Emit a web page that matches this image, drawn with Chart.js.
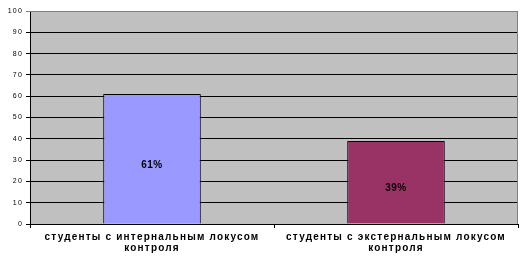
<!DOCTYPE html>
<html>
<head>
<meta charset="utf-8">
<script src="https://cdn.jsdelivr.net/npm/chart.js@4"></script>
<style>
  html, body { margin: 0; padding: 0; background: #fff; }
  #wrap { width: 528px; height: 263px; }
</style>
</head>
<body>
<div id="wrap"><canvas id="chart" width="528" height="263"></canvas></div>
<script>
// data
const categories = [
  ['студенты с интернальным локусом', 'контроля'],
  ['студенты с экстернальным локусом', 'контроля']
];
const values = [61, 39];
const barColors = ['#9999FF', '#993366'];
const yTicks = [0, 10, 20, 30, 40, 50, 60, 70, 80, 90, 100];

const plotBg = {
  id: 'plotBg',
  beforeDraw(chart) {
    const { ctx, chartArea: a } = chart;
    ctx.save();
    ctx.fillStyle = '#C0C0C0';
    ctx.fillRect(a.left, a.top, a.right - a.left, a.bottom - a.top);
    ctx.restore();
    ctx.letterSpacing = '1.2px';
  },
  afterDraw(chart) {
    const { ctx, chartArea: a } = chart;
    ctx.save();
    ctx.strokeStyle = '#808080';
    ctx.lineWidth = 1;
    ctx.beginPath();
    ctx.moveTo(a.left, a.top + 0.5);
    ctx.lineTo(a.right - 0.5, a.top + 0.5);
    ctx.lineTo(a.right - 0.5, a.bottom);
    ctx.stroke();
    // value labels in the middle of each bar
    ctx.letterSpacing = '0.5px';
    ctx.font = 'bold 10px "Liberation Sans", Arial, sans-serif';
    ctx.fillStyle = '#000';
    ctx.textAlign = 'center';
    ctx.textBaseline = 'middle';
    const meta = chart.getDatasetMeta(0);
    meta.data.forEach((bar, i) => {
      const yMid = (bar.y + bar.base) / 2 + 6;
      ctx.fillText(values[i] + '%', bar.x, yMid);
    });
    ctx.restore();
  }
};

new Chart(document.getElementById('chart'), {
  type: 'bar',
  data: {
    labels: categories,
    datasets: [{
      data: values,
      backgroundColor: barColors,
      borderColor: '#000',
      borderWidth: 1,
      barPercentage: 1,
      categoryPercentage: 0.4
    }]
  },
  options: {
    responsive: false,
    animation: false,
    devicePixelRatio: 1,
    layout: { padding: { top: 11, right: 10, left: 0, bottom: 0 } },
    plugins: {
      legend: { display: false },
      tooltip: { enabled: false }
    },
    scales: {
      x: {
        offset: true,
        grid: {
          offset: true,
          drawOnChartArea: false,
          color: '#000',
          tickLength: 4
        },
        border: { color: '#000' },
        ticks: {
          color: '#000',
          padding: 3,
          maxRotation: 0,
          autoSkip: false,
          font: { family: '"Liberation Sans", Arial, sans-serif', size: 10, weight: 'bold', lineHeight: 1.15 }
        },
        afterFit(scale) { scale.height = 39; }
      },
      y: {
        min: 0,
        max: 100,
        afterBuildTicks(scale) { scale.ticks = yTicks.map(v => ({ value: v })); },
        grid: {
          color: ctx => ctx.tick && ctx.tick.value === 100 ? '#808080' : '#000',
          tickLength: 4
        },
        border: { color: '#000' },
        ticks: {
          color: '#000',
          padding: 3,
          font: { family: '"Liberation Sans", Arial, sans-serif', size: 7 }
        },
        afterFit(scale) { scale.width = 30; }
      }
    }
  },
  plugins: [plotBg]
});
</script>
</body>
</html>
